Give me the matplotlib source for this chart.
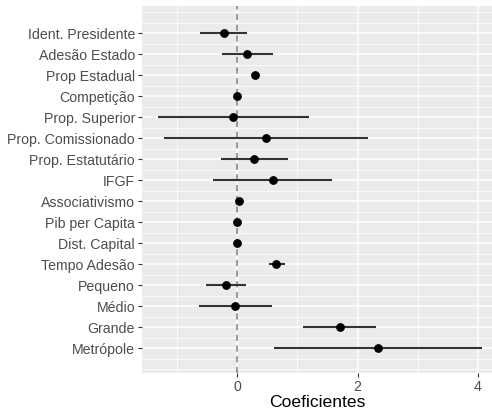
import matplotlib
matplotlib.use('Agg')
import matplotlib.pyplot as plt
import numpy as np

plt.rcParams['font.family'] = ['Liberation Sans', 'DejaVu Sans']

variables = ['Ident. Presidente', 'Adesão Estado', 'Prop Estadual', 'Competição',
             'Prop. Superior', 'Prop. Comissionado', 'Prop. Estatutário', 'IFGF',
             'Associativismo', 'Pib per Capita', 'Dist. Capital', 'Tempo Adesão',
             'Pequeno', 'Médio', 'Grande', 'Metrópole']
coef = [-0.23, 0.16, 0.29, 0.0, -0.07, 0.47, 0.28, 0.59,
        0.03, 0.0, 0.0, 0.65, -0.19, -0.04, 1.70, 2.34]
ci_low = [-0.62, -0.25, 0.25, -0.02, -1.33, -1.23, -0.28, -0.41,
          0.01, -0.01, -0.01, 0.52, -0.52, -0.64, 1.09, 0.61]
ci_high = [0.16, 0.59, 0.33, 0.02, 1.20, 2.17, 0.84, 1.58,
           0.05, 0.01, 0.01, 0.80, 0.15, 0.57, 2.31, 4.07]

n = len(variables)
ypos = np.arange(n, 0, -1)  # first variable on top

fig = plt.figure(figsize=(4.92, 4.15), dpi=100)
ax = fig.add_axes([142 / 492, 1 - 373 / 415, 350 / 492, 367 / 415])
ax.set_facecolor('#EBEBEB')

# grid: major at categories / even x, minor in between
for y in np.arange(0, n + 1.5, 0.5):
    if y in ypos:
        ax.axhline(y, color='white', lw=1.1, zorder=0)
    else:
        ax.axhline(y, color='white', lw=0.55, zorder=0)
for x in [0, 2, 4]:
    ax.axvline(x, color='white', lw=1.1, zorder=0)
for x in [-1, 1, 3]:
    ax.axvline(x, color='white', lw=0.55, zorder=0)

ax.axvline(0, color='#7F7F7F', lw=1.1, ls=(0, (4, 3)), zorder=1)

ax.hlines(ypos, ci_low, ci_high, color='#333333', lw=1.5, zorder=2)
ax.plot(coef, ypos, 'o', color='black', ms=5.3, zorder=3)

ax.set_xlim(-1.59, 4.24)
ax.set_ylim(-0.19, n + 1.286)
ax.set_yticks(ypos)
ax.set_yticklabels(variables)
ax.set_xticks([0, 2, 4])
ax.set_xticklabels(['0', '2', '4'])
ax.tick_params(colors='#333333', labelcolor='#4D4D4D', labelsize=10.2,
               length=3, width=0.8, pad=2)
for s in ax.spines.values():
    s.set_visible(False)
ax.set_xlabel('Coeficientes', fontsize=12.6, color='black', labelpad=1)

fig.savefig('out.png', dpi=100)
